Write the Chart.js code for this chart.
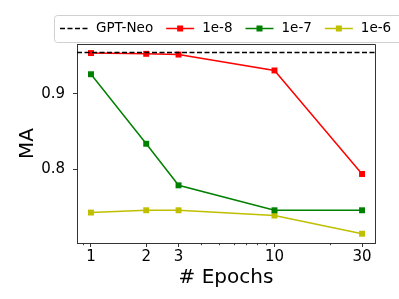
<!DOCTYPE html>
<html><head><meta charset="utf-8">
<script src="https://cdn.jsdelivr.net/npm/chart.js@4.4.0/dist/chart.umd.min.js"></script>
<style>html,body{margin:0;padding:0;background:#fff;overflow:hidden}</style>
</head><body>
<canvas id="c" width="399" height="299"></canvas>
<script>
const epochs = [1, 2, 3, 10, 30];
const gptNeo = 0.9547;
const lr1e8 = [0.954, 0.953, 0.952, 0.931, 0.794];
const lr1e7 = [0.926, 0.834, 0.779, 0.746, 0.746];
const lr1e6 = [0.743, 0.746, 0.746, 0.739, 0.715];
const seriesLabels = ['GPT-Neo', '1e-8', '1e-7', '1e-6'];
const xTicks = [1, 2, 3, 10, 30];
const xMinorTicks = [0.9, 4, 5, 6, 7, 8, 9, 20];
const yTicks = [0.8, 0.9];
const xRange = [0.839, 35.3];
const yRange = [0.7027, 0.966];

const FONT = 'DejaVu Sans';
const pts = arr => epochs.map((e, i) => ({x: e, y: arr[i]}));

function series(label, arr, color) {
  return {
    label, data: pts(arr), borderColor: color, backgroundColor: color,
    borderWidth: 1.5, pointStyle: 'rect', pointRadius: 4.2, pointBorderWidth: 0,
    pointHoverRadius: 4.2, tension: 0
  };
}

const frameAndExtras = {
  id: 'frameAndExtras',
  afterDraw(chart) {
    const {ctx, chartArea: a, scales} = chart;
    ctx.save();
    // top and right spines
    ctx.strokeStyle = '#333';
    ctx.lineWidth = 1;
    ctx.beginPath();
    ctx.moveTo(Math.round(a.left) + 0.5, Math.round(a.top) + 0.5);
    ctx.lineTo(Math.round(a.right) + 0.5, Math.round(a.top) + 0.5);
    ctx.lineTo(Math.round(a.right) + 0.5, Math.round(a.bottom) + 0.5);
    ctx.stroke();
    // minor x ticks
    const xs = scales.x;
    ctx.beginPath();
    xMinorTicks.forEach(v => {
      if (v < xRange[0] || v > xRange[1]) return;
      const px = Math.round(xs.getPixelForValue(v)) + 0.5;
      ctx.moveTo(px, a.bottom);
      ctx.lineTo(px, a.bottom + 2.2);
    });
    ctx.stroke();
    // legend
    const ds = chart.data.datasets;
    ctx.font = '13.5px "' + FONT + '"';
    ctx.beginPath();
    if (ctx.roundRect) ctx.roundRect(54.5, 15.5, 360, 27, 3); else ctx.rect(54.5, 15.5, 360, 27);
    ctx.fillStyle = 'rgba(255,255,255,0.85)';
    ctx.fill();
    ctx.strokeStyle = '#d0d0d0';
    ctx.stroke();
    let x = 60;
    const cy = 28.5;
    ds.forEach((d, i) => {
      ctx.strokeStyle = d.borderColor;
      ctx.lineWidth = 1.5;
      ctx.setLineDash(d.borderDash || []);
      ctx.beginPath();
      ctx.moveTo(x, cy);
      ctx.lineTo(x + 28, cy);
      ctx.stroke();
      ctx.setLineDash([]);
      if (d.pointRadius > 0) {
        ctx.fillStyle = d.borderColor;
        ctx.fillRect(x + 14 - 3, cy - 3, 6, 6);
      }
      ctx.fillStyle = '#000';
      ctx.textBaseline = 'middle';
      ctx.textAlign = 'left';
      const t = seriesLabels[i];
      ctx.fillText(t, x + 36, cy);
      x += 36 + ctx.measureText(t).width + 13;
    });
    ctx.restore();
  }
};

new Chart(document.getElementById('c'), {
  type: 'line',
  data: {
    datasets: [
      {label: seriesLabels[0], data: [{x: xRange[0], y: gptNeo}, {x: xRange[1], y: gptNeo}],
       borderColor: '#000', borderWidth: 1.5, borderDash: [5, 2.5], pointRadius: 0, pointHoverRadius: 0},
      series(seriesLabels[1], lr1e8, '#ff0000'),
      series(seriesLabels[2], lr1e7, '#008000'),
      series(seriesLabels[3], lr1e6, '#bfbf00')
    ]
  },
  options: {
    responsive: false, animation: false, devicePixelRatio: 1,
    layout: {padding: {top: 44, right: 24, left: 0, bottom: 0}},
    plugins: {legend: {display: false}, tooltip: {enabled: false}},
    scales: {
      x: {
        type: 'logarithmic', min: xRange[0], max: xRange[1],
        afterBuildTicks: s => { s.ticks = xTicks.map(v => ({value: v})); },
        afterFit: s => { s.height = 56; },
        ticks: {color: '#000', font: {family: FONT, size: 15}, padding: 1, maxRotation: 0, autoSkip: false,
                callback: v => String(v)},
        grid: {drawOnChartArea: false, drawTicks: true, tickLength: 4, color: '#333', lineWidth: 1},
        border: {display: true, color: '#333', width: 1},
        title: {display: true, text: '# Epochs', color: '#000', font: {family: FONT, size: 20}, padding: {top: 0, bottom: 9}}
      },
      y: {
        type: 'linear', min: yRange[0], max: yRange[1],
        afterBuildTicks: s => { s.ticks = yTicks.map(v => ({value: v})); },
        afterFit: s => { s.width = 77; },
        ticks: {color: '#000', font: {family: FONT, size: 15}, padding: 8, callback: v => Number(v).toFixed(1)},
        grid: {drawOnChartArea: false, drawTicks: true, tickLength: 4, color: '#333', lineWidth: 1},
        border: {display: true, color: '#333', width: 1},
        title: {display: true, text: 'MA', color: '#000', font: {family: FONT, size: 20}, padding: {top: 16, bottom: 0}}
      }
    }
  },
  plugins: [frameAndExtras]
});
</script>
</body></html>
